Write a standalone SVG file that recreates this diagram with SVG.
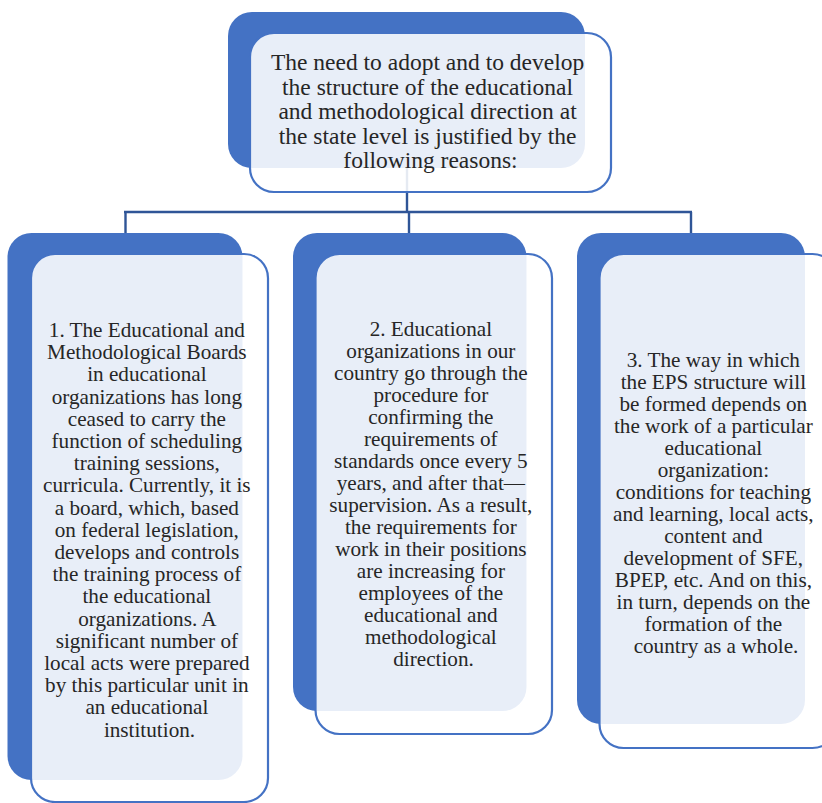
<svg xmlns="http://www.w3.org/2000/svg" width="822" height="803" viewBox="0 0 822 803">
<style>
.back{fill:#4472C4;}
.front{fill:#FFFFFF;fill-opacity:0.88;stroke:#4472C4;stroke-width:2.2;}
.conn{fill:none;stroke:#2F5597;stroke-width:2.4;}
text{font-family:"Liberation Serif","Times New Roman",serif;fill:#262626;text-anchor:middle;}
.t0{font-size:23.5px;}
.t{font-size:21.2px;}
</style>
<rect width="822" height="803" fill="#FFFFFF"/>
<g id="connectors">
<path class="conn" d="M407,168 V212"/>
<path class="conn" d="M124,212 H692"/>
<path class="conn" d="M125.5,212 V233 M409,212 V233 M691,212 V233"/>
</g>
<g id="node-top">
<rect class="back" x="228" y="12" width="357" height="156" rx="24"/>
<rect class="front" x="250" y="33" width="361" height="159" rx="24"/>
<text class="t0">
<tspan x="430.5" y="70">The need to adopt and to develop</tspan>
<tspan x="430.5" y="94.6">the structure of the educational</tspan>
<tspan x="430.5" y="119.2">and methodological direction at</tspan>
<tspan x="430.5" y="143.8">the state level is justified by the</tspan>
<tspan x="430.5" y="168.4">following reasons:</tspan>
</text>
</g>
<g id="node-1">
<rect class="back" x="7.5" y="233" width="235" height="547" rx="24"/>
<rect class="front" x="31" y="254" width="237" height="548" rx="24"/>
<text class="t">
<tspan x="149.5" y="337">1. The Educational and</tspan>
<tspan x="149.5" y="359.2">Methodological Boards</tspan>
<tspan x="149.5" y="381.4">in educational</tspan>
<tspan x="149.5" y="403.6">organizations has long</tspan>
<tspan x="149.5" y="425.8">ceased to carry the</tspan>
<tspan x="149.5" y="448">function of scheduling</tspan>
<tspan x="149.5" y="470.2">training sessions,</tspan>
<tspan x="149.5" y="492.4">curricula. Currently, it is</tspan>
<tspan x="149.5" y="514.6">a board, which, based</tspan>
<tspan x="149.5" y="536.8">on federal legislation,</tspan>
<tspan x="149.5" y="559">develops and controls</tspan>
<tspan x="149.5" y="581.2">the training process of</tspan>
<tspan x="149.5" y="603.4">the educational</tspan>
<tspan x="149.5" y="625.6">organizations. A</tspan>
<tspan x="149.5" y="647.8">significant number of</tspan>
<tspan x="149.5" y="670">local acts were prepared</tspan>
<tspan x="149.5" y="692.2">by this particular unit in</tspan>
<tspan x="149.5" y="714.4">an educational</tspan>
<tspan x="149.5" y="736.6">institution.</tspan>
</text>
</g>
<g id="node-2">
<rect class="back" x="293" y="233" width="233.5" height="478" rx="24"/>
<rect class="front" x="315.5" y="254" width="236.5" height="480" rx="24"/>
<text class="t">
<tspan x="433.5" y="336">2. Educational</tspan>
<tspan x="433.5" y="358">organizations in our</tspan>
<tspan x="433.5" y="380">country go through the</tspan>
<tspan x="433.5" y="402">procedure for</tspan>
<tspan x="433.5" y="424">confirming the</tspan>
<tspan x="433.5" y="446">requirements of</tspan>
<tspan x="433.5" y="468">standards once every 5</tspan>
<tspan x="433.5" y="490">years, and after that—</tspan>
<tspan x="433.5" y="512">supervision. As a result,</tspan>
<tspan x="433.5" y="534">the requirements for</tspan>
<tspan x="433.5" y="556">work in their positions</tspan>
<tspan x="433.5" y="578">are increasing for</tspan>
<tspan x="433.5" y="600">employees of the</tspan>
<tspan x="433.5" y="622">educational and</tspan>
<tspan x="433.5" y="644">methodological</tspan>
<tspan x="433.5" y="666">direction.</tspan>
</text>
</g>
<g id="node-3">
<rect class="back" x="577" y="233" width="228" height="491" rx="24"/>
<rect class="front" x="599.5" y="254" width="237" height="494" rx="24"/>
<text class="t">
<tspan x="716" y="366.5">3. The way in which</tspan>
<tspan x="716" y="388.5">the EPS structure will</tspan>
<tspan x="716" y="410.5">be formed depends on</tspan>
<tspan x="716" y="432.5">the work of a particular</tspan>
<tspan x="716" y="454.5">educational</tspan>
<tspan x="716" y="476.5">organization:</tspan>
<tspan x="716" y="498.5">conditions for teaching</tspan>
<tspan x="716" y="520.5">and learning, local acts,</tspan>
<tspan x="716" y="542.5">content and</tspan>
<tspan x="716" y="564.5">development of SFE,</tspan>
<tspan x="716" y="586.5">BPEP, etc. And on this,</tspan>
<tspan x="716" y="608.5">in turn, depends on the</tspan>
<tspan x="716" y="630.5">formation of the</tspan>
<tspan x="716" y="652.5">country as a whole.</tspan>
</text>
</g>
</svg>
